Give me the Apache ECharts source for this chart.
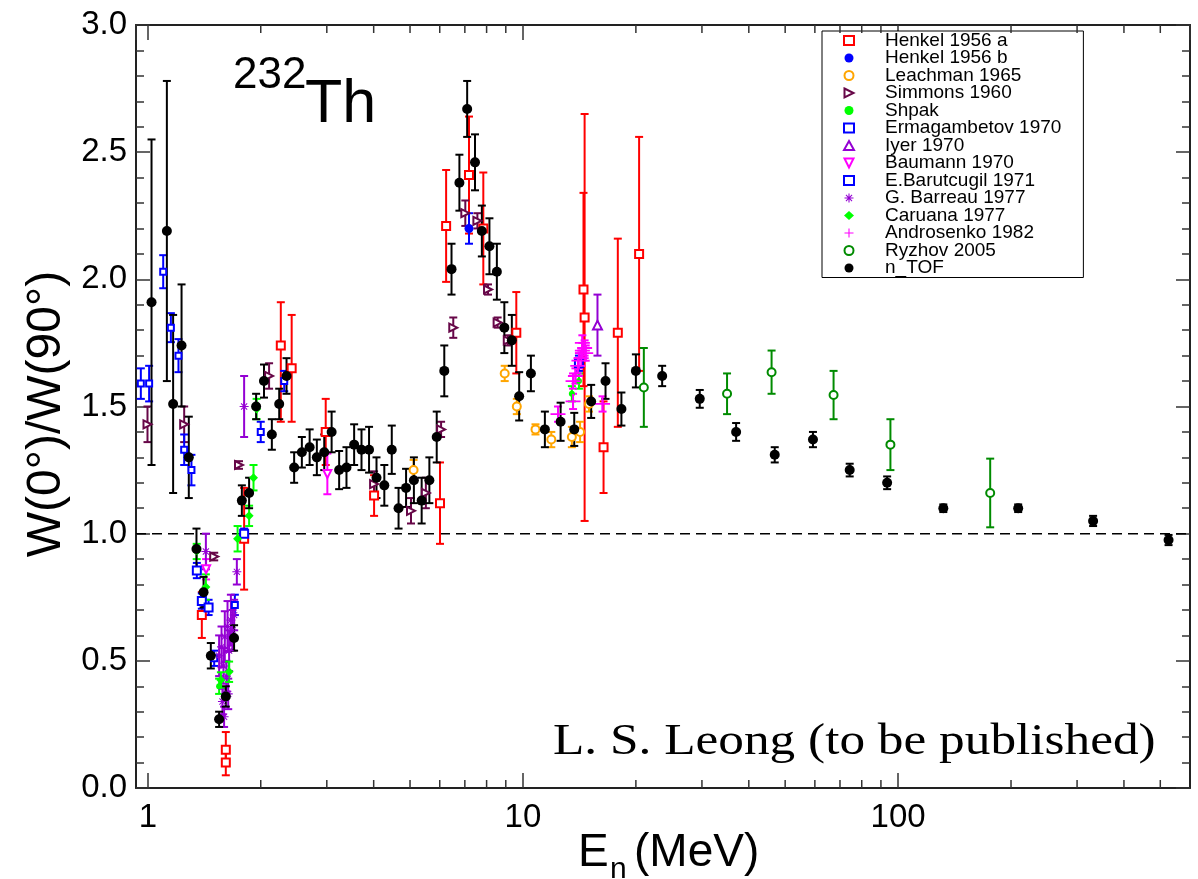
<!DOCTYPE html>
<html>
<head>
<meta charset="utf-8">
<script src="https://cdn.jsdelivr.net/npm/echarts@6/dist/echarts.min.js"></script>
<style>
  html, body { margin: 0; padding: 0; background: #fff; }
  #chart { width: 1198px; height: 879px; }
</style>
</head>
<body>
<div id="chart"></div>
<script>
// Fission-fragment anisotropy W(0°)/W(90°) for 232Th versus neutron energy (MeV).
// Each data set: energies, ratios, and uncertainties.

const henkelA_E   = [1.393, 1.614, 1.614, 1.806, 2.262, 2.418, 2.98, 4.01, 6.01, 6.24, 7.18, 7.84, 9.60, 14.5, 14.6, 16.4, 17.9, 20.4];
const henkelA_W   = [0.68, 0.15, 0.10, 0.98, 1.74, 1.65, 1.40, 1.15, 1.12, 2.21, 2.41, 2.20, 1.79, 1.96, 1.85, 1.34, 1.79, 2.10];
const henkelA_dLo = [0.09, 0.05, 0.05, 0.20, 0.30, 0.21, 0.13, 0.08, 0.16, 0.22, 0.23, 0.22, 0.16, 0.38, 0.80, 0.18, 0.37, 0.46];
const henkelA_dHi = [0.09, 0.07, 0.05, 0.20, 0.17, 0.21, 0.13, 0.08, 0.16, 0.22, 0.23, 0.22, 0.16, 0.38, 0.80, 0.18, 0.37, 0.46];

const henkelB_E  = [7.18];
const henkelB_W  = [2.20];
const henkelB_dW = [0.06];

const leachman_E  = [5.11, 8.94, 9.63, 10.8, 11.9, 13.5, 14.2, 15.0];
const leachman_W  = [1.25, 1.63, 1.50, 1.41, 1.37, 1.38, 1.40, 1.51];
const leachman_dW = [0.04, 0.03, 0.03, 0.02, 0.03, 0.04, 0.04, 0.03];

const simmons_E  = [0.998, 1.25, 1.503, 1.75, 2.105, 4.01, 5.03, 5.51, 6.05, 6.52, 7.02, 7.56, 8.07, 8.56, 9.11];
const simmons_W  = [1.43, 1.43, 0.91, 1.27, 1.62, 1.195, 1.09, 1.16, 1.41, 1.81, 2.26, 2.23, 1.96, 1.83, 1.76];
const simmons_dW = [0.07, 0.07, 0.015, 0.015, 0.05, 0.05, 0.05, 0.06, 0.03, 0.04, 0.05, 0.03, 0.02, 0.02, 0.02];

const shpak_E  = [1.35, 1.549, 13.5, 14.1];
const shpak_W  = [0.93, 0.40, 1.55, 1.60];
const shpak_dW = [0.03, 0.03, 0.03, 0.03];

const erma_E  = [0.958, 1.008, 1.099, 1.152, 1.207, 1.25, 1.307, 1.503, 1.706, 2.0, 2.31];
const erma_W  = [1.59, 1.59, 2.03, 1.81, 1.70, 1.33, 1.25, 0.51, 0.72, 1.40, 1.60];
const erma_dW = [0.06, 0.07, 0.065, 0.057, 0.065, 0.06, 0.06, 0.03, 0.04, 0.04, 0.04];

const iyer_E  = [15.8];
const iyer_W  = [1.82];
const iyer_dW = [0.12];

const baumann_E  = [1.43, 3.01];
const baumann_W  = [0.86, 1.235];
const baumann_dW = [0.04, 0.08];

const barut_E  = [1.351, 1.393, 1.452, 1.806, 14.1];
const barut_W  = [0.855, 0.735, 0.71, 1.00, 1.67];
const barut_dW = [0.03, 0.03, 0.03, 0.02, 0.03];

const barreau_E  = [1.428, 1.549, 1.572, 1.581, 1.591, 1.597, 1.604, 1.621, 1.631, 1.638, 1.647, 1.665, 1.682, 1.699, 1.727, 1.806];
const barreau_W  = [0.93, 0.52, 0.555, 0.34, 0.48, 0.28, 0.595, 0.44, 0.635, 0.37, 0.54, 0.66, 0.62, 0.68, 0.85, 1.50];
const barreau_dW = [0.07, 0.08, 0.08, 0.05, 0.07, 0.04, 0.10, 0.06, 0.10, 0.06, 0.08, 0.10, 0.08, 0.06, 0.05, 0.12];

const caruana_E  = [1.428, 1.566, 1.647, 1.735, 1.862, 1.913, 1.95];
const caruana_W  = [0.79, 0.425, 0.457, 0.98, 1.07, 1.22, 1.49];
const caruana_dW = [0.05, 0.03, 0.04, 0.05, 0.04, 0.05, 0.04];

const andro_E  = [12.4, 13.6, 13.6, 13.8, 14.0, 14.1, 14.3, 14.4, 14.4, 14.6, 14.7, 16.3];
const andro_W  = [1.47, 1.52, 1.60, 1.62, 1.66, 1.68, 1.69, 1.72, 1.75, 1.73, 1.71, 1.51];
const andro_dW = [0.03, 0.03, 0.03, 0.03, 0.03, 0.03, 0.03, 0.03, 0.03, 0.03, 0.03, 0.03];

const ryzhov_E  = [21.0, 35.0, 46.0, 67.3, 95.4, 176];
const ryzhov_W  = [1.575, 1.55, 1.635, 1.545, 1.35, 1.16];
const ryzhov_dW = [0.155, 0.08, 0.085, 0.095, 0.10, 0.135];

const ntof_E = [1.023, 1.124, 1.168, 1.230, 1.286, 1.348, 1.408, 1.472, 1.549, 1.614, 1.698, 1.781, 1.862, 1.944, 2.040,
  2.141, 2.24, 2.343, 2.455, 2.574, 2.70, 2.822, 2.953, 3.09, 3.236, 3.385, 3.548, 3.712, 3.888, 4.07, 4.27, 4.47, 4.66,
  4.88, 5.12, 5.37, 5.63, 5.89, 6.17, 6.45, 6.77, 7.10, 7.45, 7.77, 8.14, 8.52, 8.92, 9.34, 9.77, 10.50, 11.44, 12.6,
  13.7, 15.2, 16.6, 18.3, 20.0, 23.5, 29.6, 37.0, 46.9, 59.3, 74.3, 93.5, 132, 209, 331, 526];
const ntof_W = [1.91, 2.19, 1.51, 1.74, 1.30, 0.94, 0.77, 0.52, 0.27, 0.36, 0.59, 1.13, 1.16, 1.50, 1.60,
  1.39, 1.51, 1.62, 1.26, 1.32, 1.34, 1.30, 1.32, 1.40, 1.25, 1.26, 1.35, 1.33, 1.33, 1.22, 1.19, 1.33, 1.10,
  1.18, 1.21, 1.13, 1.21, 1.38, 1.64, 2.04, 2.38, 2.67, 2.46, 2.19, 2.13, 2.03, 1.81, 1.76, 1.54, 1.63, 1.41, 1.44,
  1.41, 1.52, 1.60, 1.49, 1.64, 1.62, 1.53, 1.40, 1.31, 1.37, 1.25, 1.20, 1.10, 1.10, 1.05, 0.975];
const ntof_dW = [0.64, 0.59, 0.35, 0.24, 0.16, 0.08, 0.06, 0.05, 0.03, 0.04, 0.05, 0.06, 0.06, 0.05, 0.065,
  0.06, 0.06, 0.07, 0.06, 0.06, 0.07, 0.07, 0.07, 0.08, 0.075, 0.08, 0.08, 0.08, 0.09, 0.08, 0.08, 0.095, 0.08,
  0.075, 0.09, 0.09, 0.09, 0.10, 0.10, 0.10, 0.11, 0.11, 0.11, 0.10, 0.11, 0.11, 0.10, 0.10, 0.095, 0.07, 0.07, 0.075,
  0.065, 0.065, 0.07, 0.065, 0.065, 0.04, 0.035, 0.035, 0.03, 0.03, 0.025, 0.025, 0.015, 0.015, 0.02, 0.02];

// Axis ranges and tick values
const xRange = [0.93, 600];
const yRange = [0, 3];
const yTickStep = 0.5;
const xMinorTicks = [2, 3, 4, 5, 6, 7, 8, 9, 20, 30, 40, 50, 60, 70, 80, 90, 200, 300, 400, 500];
const refLevel = 1.0;

const FONT = 'Liberation Sans';

// marker shapes
const SYM_TRI_RIGHT = 'path://M0,0L10,5L0,10Z';
const SYM_TRI_DOWN  = 'path://M0,0L10,0L5,10Z';
const SYM_PLUS      = 'path://M4.4,0H5.6V4.4H10V5.6H5.6V10H4.4V5.6H0V4.4H4.4Z';
const SYM_STAR      = 'path://M4.4,0H5.6V10H4.4Z M0,4.4H10V5.6H0Z M1.2,2.0L2.0,1.2L8.8,8.0L8.0,8.8Z M8.0,1.2L8.8,2.0L2.0,8.8L1.2,8.0Z';

const sets = [
  { name: 'Henkel 1956 a',       E: henkelA_E,  W: henkelA_W,  lo: henkelA_dLo, hi: henkelA_dHi, color: '#ff0000', symbol: 'rect',        size: 8,  open: true },
  { name: 'Henkel 1956 b',       E: henkelB_E,  W: henkelB_W,  lo: henkelB_dW,  color: '#0000ff', symbol: 'circle',      size: 9 },
  { name: 'Leachman 1965',       E: leachman_E, W: leachman_W, lo: leachman_dW, color: '#ffa500', symbol: 'circle',      size: 8,  open: true },
  { name: 'Simmons 1960',        E: simmons_E,  W: simmons_W,  lo: simmons_dW,  color: '#670748', symbol: SYM_TRI_RIGHT, size: 8,  open: true },
  { name: 'Shpak',               E: shpak_E,    W: shpak_W,    lo: shpak_dW,    color: '#00ff00', symbol: 'circle',      size: 6 },
  { name: 'Ermagambetov 1970',   E: erma_E,     W: erma_W,     lo: erma_dW,     color: '#0000ff', symbol: 'rect',        size: 6,  open: true },
  { name: 'Iyer 1970',           E: iyer_E,     W: iyer_W,     lo: iyer_dW,     color: '#9400d3', symbol: 'triangle',    size: 9,  open: true },
  { name: 'Baumann 1970',        E: baumann_E,  W: baumann_W,  lo: baumann_dW,  color: '#ff00ff', symbol: SYM_TRI_DOWN,  size: 8,  open: true },
  { name: 'E.Barutcugil 1971',   E: barut_E,    W: barut_W,    lo: barut_dW,    color: '#0000ff', symbol: 'rect',        size: 8,  open: true },
  { name: 'G. Barreau 1977',     E: barreau_E,  W: barreau_W,  lo: barreau_dW,  color: '#9400d3', symbol: SYM_STAR,      size: 9 },
  { name: 'Caruana 1977',        E: caruana_E,  W: caruana_W,  lo: caruana_dW,  color: '#00ff00', symbol: 'diamond',     size: 9 },
  { name: 'Androsenko 1982',     E: andro_E,    W: andro_W,    lo: andro_dW,    color: '#ff00ff', symbol: SYM_PLUS,      size: 15 },
  { name: 'Ryzhov 2005',         E: ryzhov_E,   W: ryzhov_W,   lo: ryzhov_dW,   color: '#008b00', symbol: 'circle',      size: 8,  open: true },
  { name: 'n_TOF',               E: ntof_E,     W: ntof_W,     lo: ntof_dW,     color: '#000000', symbol: 'circle',      size: 10 }
];

// vertical error bar with end caps, placed through the axis scales
function errorBarRenderer(color, cap, lw) {
  return function (params, api) {
    const x = api.value(0);
    const p1 = api.coord([x, api.value(1)]);
    const p2 = api.coord([x, api.value(2)]);
    const h = cap / 2;
    const st = { stroke: color, lineWidth: lw };
    return {
      type: 'group',
      children: [
        { type: 'line', shape: { x1: p1[0], y1: p1[1], x2: p2[0], y2: p2[1] }, style: st },
        { type: 'line', shape: { x1: p1[0] - h, y1: p1[1], x2: p1[0] + h, y2: p1[1] }, style: st },
        { type: 'line', shape: { x1: p2[0] - h, y1: p2[1], x2: p2[0] + h, y2: p2[1] }, style: st }
      ]
    };
  };
}

const series = [];

// reference line at W(0°)/W(90°) = 1
series.push({
  type: 'line', name: 'ref', silent: true, symbol: 'none', z: 1,
  data: [[xRange[0], refLevel], [xRange[1], refLevel]],
  lineStyle: { color: '#000', width: 1.5, type: [10, 6] }
});

// minor ticks of the logarithmic energy axis (bottom and top frame)
series.push({
  type: 'custom', name: 'xminor', silent: true, z: 5,
  data: xMinorTicks.map(v => [v, 0]),
  encode: { x: 0, y: 1 },
  renderItem: function (params, api) {
    const cs = params.coordSys;
    const px = api.coord([api.value(0), 0])[0];
    const st = { stroke: '#333', lineWidth: 1.5 };
    return {
      type: 'group',
      children: [
        { type: 'line', shape: { x1: px, y1: cs.y + cs.height, x2: px, y2: cs.y + cs.height - 8 }, style: st },
        { type: 'line', shape: { x1: px, y1: cs.y, x2: px, y2: cs.y + 8 }, style: st }
      ]
    };
  }
});

sets.forEach(s => {
  const hi = s.hi || s.lo;
  series.push({
    type: 'custom', name: s.name + ' err', silent: true,
    data: s.E.map((e, i) => [e, s.W[i] - s.lo[i], s.W[i] + hi[i]]),
    encode: { x: 0, y: [1, 2] },
    renderItem: errorBarRenderer(s.color, 8, 2)
  });
  series.push({
    type: 'scatter', name: s.name,
    data: s.E.map((e, i) => [e, s.W[i]]),
    symbol: s.symbol, symbolSize: s.size, symbolKeepAspect: true,
    itemStyle: s.open
      ? { color: '#ffffff', borderColor: s.color, borderWidth: 2, opacity: 1 }
      : { color: s.color, opacity: 1 }
  });
});

const isDecade = v => Math.abs(Math.log10(v) - Math.round(Math.log10(v))) < 1e-6;

const axisLineStyle = { color: '#222', width: 2 };

const option = {
  animation: false,
  backgroundColor: '#ffffff',
  grid: { left: 136, right: 8, top: 25, bottom: 91, containLabel: false },
  xAxis: [
    {
      type: 'log', logBase: 10, min: xRange[0], max: xRange[1], position: 'bottom',
      axisLine: { show: true, onZero: false, lineStyle: axisLineStyle },
      axisTick: { show: true, inside: true, length: 15, lineStyle: { color: '#333', width: 1.5 } },
      minorTick: { show: false },
      splitLine: { show: false },
      axisLabel: {
        show: true, margin: 13, color: '#000', fontFamily: FONT, fontSize: 33,
        showMinLabel: false, showMaxLabel: false,
        formatter: v => (isDecade(v) ? String(Math.round(v)) : '')
      }
    },
    {
      type: 'log', logBase: 10, min: xRange[0], max: xRange[1], position: 'top',
      axisLine: { show: true, onZero: false, lineStyle: axisLineStyle },
      axisTick: { show: true, inside: true, length: 15, lineStyle: { color: '#333', width: 1.5 } },
      splitLine: { show: false },
      axisLabel: { show: false }
    }
  ],
  yAxis: [
    {
      type: 'value', min: yRange[0], max: yRange[1], interval: yTickStep, position: 'left',
      axisLine: { show: true, lineStyle: axisLineStyle },
      axisTick: { show: true, inside: true, length: 14, lineStyle: { color: '#333', width: 1.5 } },
      minorTick: { show: true, splitNumber: 5, length: 8, lineStyle: { color: '#333', width: 1.5 } },
      splitLine: { show: false },
      axisLabel: { margin: 9, color: '#000', fontFamily: FONT, fontSize: 33, formatter: v => v.toFixed(1) }
    },
    {
      type: 'value', min: yRange[0], max: yRange[1], interval: yTickStep, position: 'right',
      axisLine: { show: true, lineStyle: axisLineStyle },
      axisTick: { show: true, inside: true, length: 14, lineStyle: { color: '#333', width: 1.5 } },
      minorTick: { show: true, splitNumber: 5, length: 8, lineStyle: { color: '#333', width: 1.5 } },
      splitLine: { show: false },
      axisLabel: { show: false }
    }
  ],
  legend: {
    orient: 'vertical', left: 822, top: 31,
    data: sets.map(s => s.name),
    itemWidth: 10, itemHeight: 9, itemGap: -1.5,
    padding: [0, 22, 0, 21],
    backgroundColor: '#ffffff', borderColor: '#000', borderWidth: 1, borderRadius: 0,
    selectedMode: false,
    textStyle: { fontFamily: FONT, fontSize: 19, color: '#000', padding: [0, 0, 0, 26] }
  },
  graphic: [
    { type: 'text', x: 233, y: 76, style: { text: '232', fontFamily: FONT, fontSize: 44, fill: '#000', verticalAlign: 'middle' } },
    { type: 'text', x: 305, y: 105, style: { text: 'Th', fontFamily: FONT, fontSize: 61, fill: '#000', verticalAlign: 'middle' } },
    { type: 'text', x: 553, y: 742, scaleX: 1.14, style: { text: 'L. S. Leong (to be published)', fontFamily: 'Liberation Serif', fontSize: 45, fill: '#000', verticalAlign: 'middle' } },
    { type: 'text', x: 47, y: 414, rotation: Math.PI / 2, style: { text: 'W(0°)/W(90°)', fontFamily: FONT, fontSize: 48, fill: '#000', align: 'center', verticalAlign: 'middle' } },
    { type: 'text', x: 578, y: 853, style: { text: 'E', fontFamily: FONT, fontSize: 46, fill: '#000', verticalAlign: 'middle' } },
    { type: 'text', x: 610, y: 870, style: { text: 'n', fontFamily: FONT, fontSize: 30, fill: '#000', verticalAlign: 'middle' } },
    { type: 'text', x: 634, y: 853, style: { text: '(MeV)', fontFamily: FONT, fontSize: 46, fill: '#000', verticalAlign: 'middle' } }
  ],
  series: series
};

const chart = echarts.init(document.getElementById('chart'), null, { renderer: 'canvas' });
chart.setOption(option);
</script>
</body>
</html>
